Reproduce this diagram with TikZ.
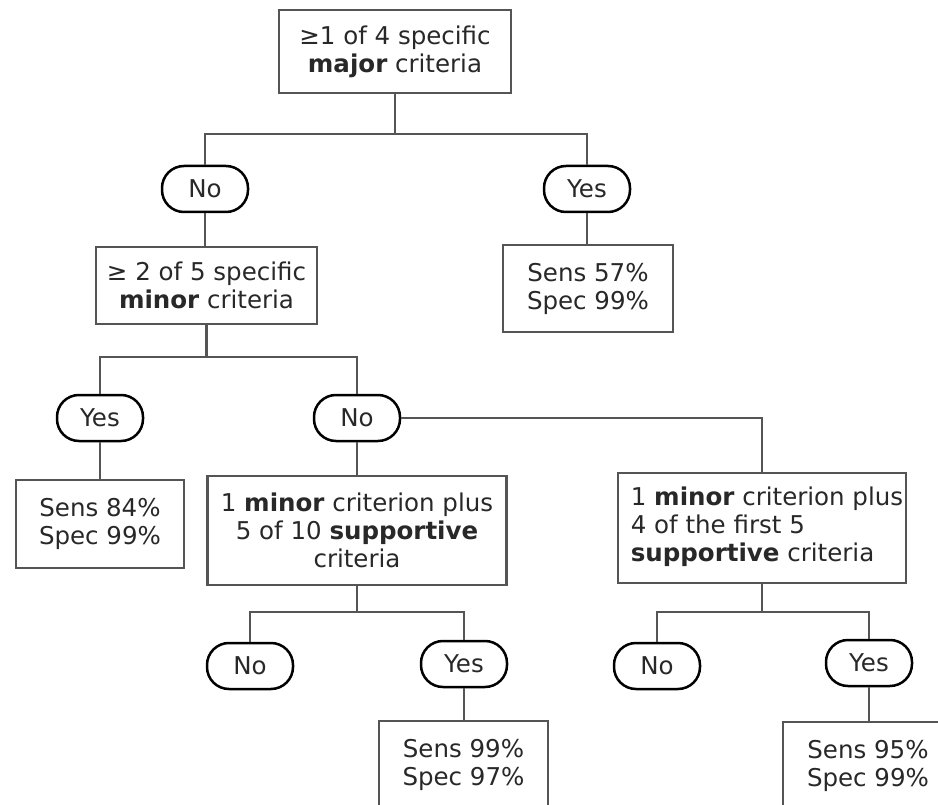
\documentclass[tikz,border=0pt]{standalone}
\usepackage{fontspec}
\setmainfont{DejaVu Sans}
\definecolor{linegray}{RGB}{85,85,85}
\definecolor{txt}{RGB}{40,40,40}
\begin{document}
\begin{tikzpicture}[x=1pt,y=-1pt,
  box/.style={draw=linegray, line width=2.8pt, fill=white, inner sep=0pt, align=center, text=txt, font=\fontsize{24.5}{28}\selectfont},
  oval/.style={draw=black, line width=2.5pt, fill=white, rounded corners=22pt, minimum width=86pt, minimum height=46pt, inner sep=0pt, text=txt, font=\fontsize{24.5}{28}\selectfont},
  conn/.style={draw=linegray, line width=2.8pt}]
\useasboundingbox (0,0) rectangle (938,805);
\clip (0,0) rectangle (938,805);

% rectangles
\node[box, minimum width=232pt, minimum height=83pt] (top) at (395,51.5) {≥1 of 4 specific\\\textbf{major} criteria};
\node[box, minimum width=221pt, minimum height=77pt] (minor) at (206.5,285.5) {≥ 2 of 5 specific\\\textbf{minor} criteria};
\node[box, minimum width=170pt, minimum height=87pt] (resA) at (588,288.5) {Sens 57\%\\Spec 99\%};
\node[box, minimum width=168pt, minimum height=88pt] (resB) at (100,524) {Sens 84\%\\Spec 99\%};
\node[box, minimum width=299pt, minimum height=109pt] (sup10) at (357,530.5) {1 \textbf{minor} criterion plus\\5 of 10 \textbf{supportive}\\criteria};
\node[box, align=left, minimum width=288pt, minimum height=110pt] (sup5) at (762,528) {\hspace*{10pt}\begin{tabular}{@{}l@{}}1 \textbf{minor} criterion plus\\4 of the first 5\\\textbf{supportive} criteria\end{tabular}};
\node[box, minimum width=169pt, minimum height=88pt] (resC) at (463.5,765) {Sens 99\%\\Spec 97\%};
\node[box, minimum width=170pt, minimum height=88pt] (resD) at (868,766) {Sens 95\%\\Spec 99\%};

% ovals
\node[oval] (noA) at (205,189) {No};
\node[oval] (yesA) at (587,189) {Yes};
\node[oval] (yesB) at (100,418) {Yes};
\node[oval] (noB) at (357,418) {No};
\node[oval] (noC) at (250,666) {No};
\node[oval] (yesC) at (464,664) {Yes};
\node[oval] (noD) at (657,666) {No};
\node[oval] (yesD) at (869,663) {Yes};

% bus coordinates
\coordinate (b1) at (top.south |- 0,134);
\coordinate (b2) at (minor.south |- 0,357);
\coordinate (b3) at (sup10.south |- 0,612);
\coordinate (b4) at (sup5.south |- 0,612);

% connectors
\draw[conn] (top.south) -- (b1);
\draw[conn] (noA.north) |- (b1) -| (yesA.north);
\draw[conn] (noA.south) -- (noA.south |- minor.north);
\draw[conn] (yesA.south) -- (yesA.south |- resA.north);
\draw[conn] (minor.south) -- (b2);
\draw[conn] (yesB.north) |- (b2) -| (noB.north);
\draw[conn] (yesB.south) -- (yesB.south |- resB.north);
\draw[conn] (noB.south) -- (noB.south |- sup10.north);
\draw[conn] (noB.east) -| (sup5.north);
\draw[conn] (sup10.south) -- (b3);
\draw[conn] (noC.north) |- (b3) -| (yesC.north);
\draw[conn] (yesC.south) -- (yesC.south |- resC.north);
\draw[conn] (sup5.south) -- (b4);
\draw[conn] (noD.north) |- (b4) -| (yesD.north);
\draw[conn] (yesD.south) -- (yesD.south |- resD.north);
\end{tikzpicture}
\end{document}
